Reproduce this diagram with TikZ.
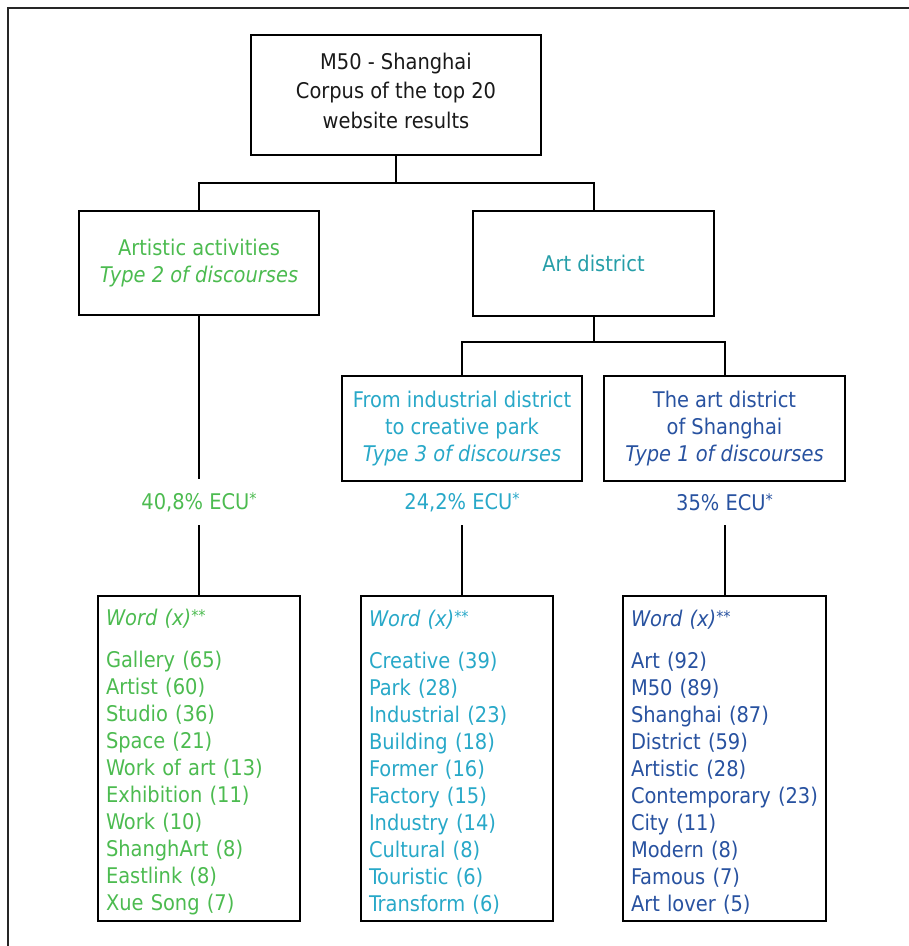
\documentclass[tikz,border=0pt]{standalone}
\usepackage{fontspec}
\setmainfont{DejaVu Sans Condensed}
\usetikzlibrary{positioning, calc}

\definecolor{actgreen}{RGB}{76,187,80}
\definecolor{distteal}{RGB}{38,158,168}
\definecolor{indcyan}{RGB}{40,168,200}
\definecolor{shgblue}{RGB}{40,82,160}

\tikzset{
    box/.style={draw, line width=2pt, align=center, inner sep=0pt,
        font=\fontsize{21.6}{27}\selectfont},
    ecu/.style={inner sep=0pt, minimum height=46pt,
        font=\fontsize{21.6}{27}\selectfont},
    wordbox/.style={draw, line width=2pt, align=left, anchor=north,
        minimum height=325pt, inner xsep=8pt, inner ysep=0pt,
        font=\fontsize{21.6}{27}\selectfont},
    link/.style={line width=2pt}
}
\newcommand{\ecustar}{\raisebox{.22em}{\fontsize{16}{16}\selectfont *}}
\newcommand{\wordhead}{\rule{0pt}{24.4pt}\textit{Word (x)}\ecustar\ecustar\\[15pt]}

\begin{document}
\begin{tikzpicture}[x=1pt, y=-1pt]
    \useasboundingbox (0,0) rectangle (909,946);
    \draw[line width=1.5pt, black!85] (8,946) |- (909,8);

    % tree
    \node[box, minimum width=290pt, minimum height=120pt, text=black!90,
        font=\fontsize{21.6}{29.5}\selectfont] (corpus) at (396,95)
        {M50 - Shanghai\\Corpus of the top 20\\website results\rule[-9pt]{0pt}{0pt}};
    \node[box, minimum width=240pt, minimum height=104pt, text=actgreen] (artact) at (199,263)
        {Artistic activities\\\textit{Type 2 of discourses}};
    \node[box, minimum width=241pt, minimum height=105pt, text=distteal] (artdist) at (593.5,263.5)
        {Art district};
    \node[box, minimum width=240pt, minimum height=105pt, text=indcyan] (indus) at (462,428.5)
        {From industrial district\\to creative park\\\textit{Type 3 of discourses}};
    \node[box, minimum width=241pt, minimum height=105pt, text=shgblue] (shang) at (724.5,428.5)
        {The art district\\of Shanghai\\\textit{Type 1 of discourses}};

    \coordinate (split1) at (396,183);
    \coordinate (split2) at (593.5,342);
    \draw[link] (corpus.south) -- (split1);
    \draw[link] (artact.north) |- (split1) -| (artdist.north);
    \draw[link] (artdist.south) -- (split2);
    \draw[link] (indus.north) |- (split2) -| (shang.north);

    % shares
    \node[ecu, text=actgreen] (ecuact) at (199,502) {40,8\% ECU\ecustar};
    \node[ecu, text=indcyan] (ecuind) at (462,502) {24,2\% ECU\ecustar};
    \node[ecu, text=shgblue] (ecushg) at (724.5,502) {35\% ECU\ecustar};

    % word lists
    \node[wordbox, text width=186pt, text=actgreen] (wordact) at (199,595)
        {\wordhead Gallery (65)\\Artist (60)\\Studio (36)\\Space (21)\\Work of art (13)\\
         Exhibition (11)\\Work (10)\\ShanghArt (8)\\Eastlink (8)\\Xue Song (7)};
    \node[wordbox, text width=176pt, text=indcyan] (wordind) at (457,595)
        {\wordhead Creative (39)\\Park (28)\\Industrial (23)\\Building (18)\\Former (16)\\
         Factory (15)\\Industry (14)\\Cultural (8)\\Touristic (6)\\Transform (6)};
    \node[wordbox, text width=187pt, text=shgblue] (wordshg) at (724.5,595)
        {\wordhead Art (92)\\M50 (89)\\Shanghai (87)\\District (59)\\Artistic (28)\\
         Contemporary (23)\\City (11)\\Modern (8)\\Famous (7)\\Art lover (5)};

    \draw[link] (artact.south) -- (ecuact.north);
    \draw[link] (ecuact.south) -- (wordact.north -| ecuact.south);
    \draw[link] (ecuind.south) -- (wordind.north -| ecuind.south);
    \draw[link] (ecushg.south) -- (wordshg.north -| ecushg.south);
\end{tikzpicture}
\end{document}
